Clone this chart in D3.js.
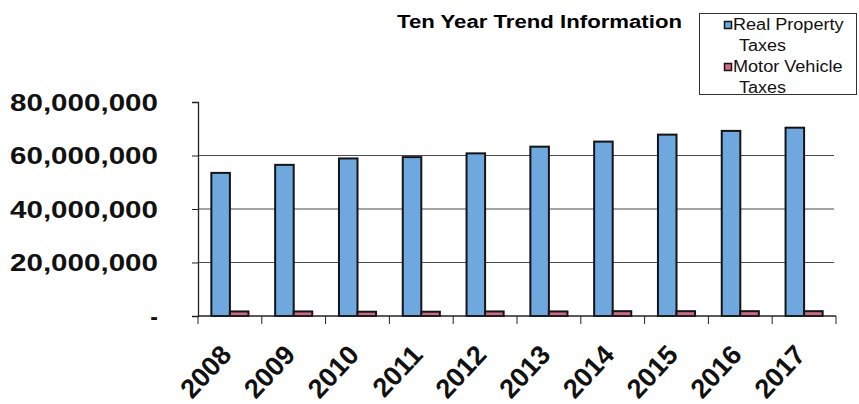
<!DOCTYPE html>
<html>
<head>
<meta charset="utf-8">
<title>Ten Year Trend Information</title>
<script src="https://cdnjs.cloudflare.com/ajax/libs/d3/7.8.5/d3.min.js"></script>
<style>
	html, body { margin: 0; padding: 0; background: #fff; }
	svg { display: block; font-family: 'Liberation Sans', Arial, sans-serif; }
</style>
</head>
<body>
<div class="vis"></div>
<script>
'use strict';

// data
var years = ['2008', '2009', '2010', '2011', '2012', '2013', '2014', '2015', '2016', '2017'];
var realProperty = [53.5e6, 56.5e6, 58.9e6, 59.4e6, 60.8e6, 63.3e6, 65.2e6, 67.8e6, 69.2e6, 70.4e6];
var motorVehicle = [1.7e6, 1.7e6, 1.6e6, 1.6e6, 1.7e6, 1.7e6, 1.8e6, 1.8e6, 1.8e6, 1.8e6];
var seriesNames = ['Real Property Taxes', 'Motor Vehicle Taxes'];
var yTicks = [0, 20e6, 40e6, 60e6, 80e6];

(function ( window, document, undefined ) {

	var width = 859;
	var height = 404;

	var blueColor = '#6fa8de';
	var pinkColor = '#cf6a86';
	var strokeColor = '#141414';

	var series = [realProperty, motorVehicle];

	// scales
	var x = d3.scaleBand()
		.domain( years )
		.range( [198, 836] );

	var xInner = d3.scaleBand()
		.domain( d3.range( series.length ) )
		.range( [0, x.bandwidth()] )
		.paddingOuter( 0.72 );

	var y = d3.scaleLinear()
		.domain( [0, 80e6] )
		.range( [316, 102] );

	var fill = d3.scaleOrdinal()
		.domain( d3.range( series.length ) )
		.range( [blueColor, pinkColor] );

	var svg = d3.select('.vis')
		.append('svg')
			.attr('width', width)
			.attr('height', height);

	// title
	svg.append('text')
		.attr('x', 397)
		.attr('y', 28)
		.attr('textLength', 285)
		.attr('lengthAdjust', 'spacingAndGlyphs')
		.style('font-size', '18px')
		.style('font-weight', 'bold')
		.text('Ten Year Trend Information');

	// gridlines (no line at the top value)
	svg.append('g')
		.selectAll('line')
		.data( yTicks.filter(function(d) { return d > 0 && d < 80e6; }) )
		.enter()
		.append('line')
			.attr('x1', x.range()[0])
			.attr('x2', 834)
			.attr('y1', function(d) { return y( d ); })
			.attr('y2', function(d) { return y( d ); })
			.attr('stroke', '#4a4a4a')
			.attr('stroke-width', 1);

	// bars
	var groups = svg.append('g')
		.selectAll('g')
		.data( years )
		.enter()
		.append('g')
			.attr('transform', function(d) { return 'translate(' + x( d ) + ',0)'; });

	groups.selectAll('rect')
		.data(function(d, i) {
			return series.map(function(s, k) { return { key: k, value: s[i] }; });
		})
		.enter()
		.append('rect')
			.attr('x', function(d) { return xInner( d.key ); })
			.attr('y', function(d) { return y( d.value ); })
			.attr('width', xInner.bandwidth())
			.attr('height', function(d) { return y( 0 ) - y( d.value ); })
			.attr('fill', function(d) { return fill( d.key ); })
			.attr('stroke', strokeColor)
			.attr('stroke-width', 2);

	// y axis
	var yAxis = svg.append('g')
		.attr('transform', 'translate(' + x.range()[0] + ',0)')
		.call( d3.axisLeft( y ).tickValues( yTicks ).tickSize( 6 ).tickFormat(function(d) {
			return d === 0 ? '-' : d3.format(',')( d );
		}) );

	yAxis.select('.domain').attr('stroke', '#222').attr('stroke-width', 1.3);
	yAxis.selectAll('.tick line').attr('stroke', '#222');
	yAxis.selectAll('.tick text')
		.attr('x', -40)
		.attr('dy', '0.36em')
		.attr('fill', '#111')
		.style('font-size', '23px')
		.style('font-weight', 'bold')
		.style('font-family', "'Liberation Sans', Arial, sans-serif")
		.each(function(d) {
			if ( d !== 0 ) {
				d3.select( this )
					.attr('textLength', 148)
					.attr('lengthAdjust', 'spacingAndGlyphs');
			}
		});

	// x axis with ticks between categories
	var xAxis = svg.append('g')
		.attr('transform', 'translate(0,' + y( 0 ) + ')');

	xAxis.append('line')
		.attr('x1', x.range()[0])
		.attr('x2', x.range()[1])
		.attr('stroke', '#222')
		.attr('stroke-width', 1.3);

	xAxis.selectAll('line.tick')
		.data( years.map(function(d) { return x( d ); }).concat( [x.range()[1]] ) )
		.enter()
		.append('line')
			.attr('class', 'tick')
			.attr('x1', function(d) { return d; })
			.attr('x2', function(d) { return d; })
			.attr('y2', 8)
			.attr('stroke', '#222');

	// year labels, slanted
	xAxis.selectAll('text')
		.data( years )
		.enter()
		.append('text')
			.attr('transform', function(d) {
				return 'translate(' + (x( d ) + x.bandwidth() / 2 + 3) + ',40) rotate(-47)';
			})
			.attr('text-anchor', 'end')
			.attr('fill', '#111')
			.style('font-size', '27px')
			.style('font-weight', 'bold')
			.text(function(d) { return d; });

	// legend
	var legend = svg.append('g');

	legend.append('rect')
		.attr('x', 699.5)
		.attr('y', 13.5)
		.attr('width', 157)
		.attr('height', 81)
		.attr('fill', '#fff')
		.attr('stroke', '#333');

	var legendItems = legend.selectAll('g')
		.data( seriesNames )
		.enter()
		.append('g')
			.attr('transform', function(d, i) { return 'translate(0,' + (i * 42) + ')'; });

	legendItems.append('rect')
		.attr('x', 724.5)
		.attr('y', 21.5)
		.attr('width', 7)
		.attr('height', 7)
		.attr('fill', function(d, i) { return fill( i ); })
		.attr('stroke', strokeColor)
		.attr('stroke-width', 1.5);

	legendItems.append('text')
		.attr('x', 733)
		.attr('y', 30)
		.attr('fill', '#111')
		.style('font-size', '16px')
		.text(function(d) { return d.replace(/ Taxes$/, ''); })
		.each(function() {
			var w = this.getComputedTextLength();
			d3.select( this )
				.attr('textLength', w * 1.13)
				.attr('lengthAdjust', 'spacingAndGlyphs');
		});

	legendItems.append('text')
		.attr('x', 739)
		.attr('y', 51)
		.attr('fill', '#111')
		.attr('textLength', 47)
		.attr('lengthAdjust', 'spacingAndGlyphs')
		.style('font-size', '16px')
		.text('Taxes');

})( this, document );
</script>
</body>
</html>
